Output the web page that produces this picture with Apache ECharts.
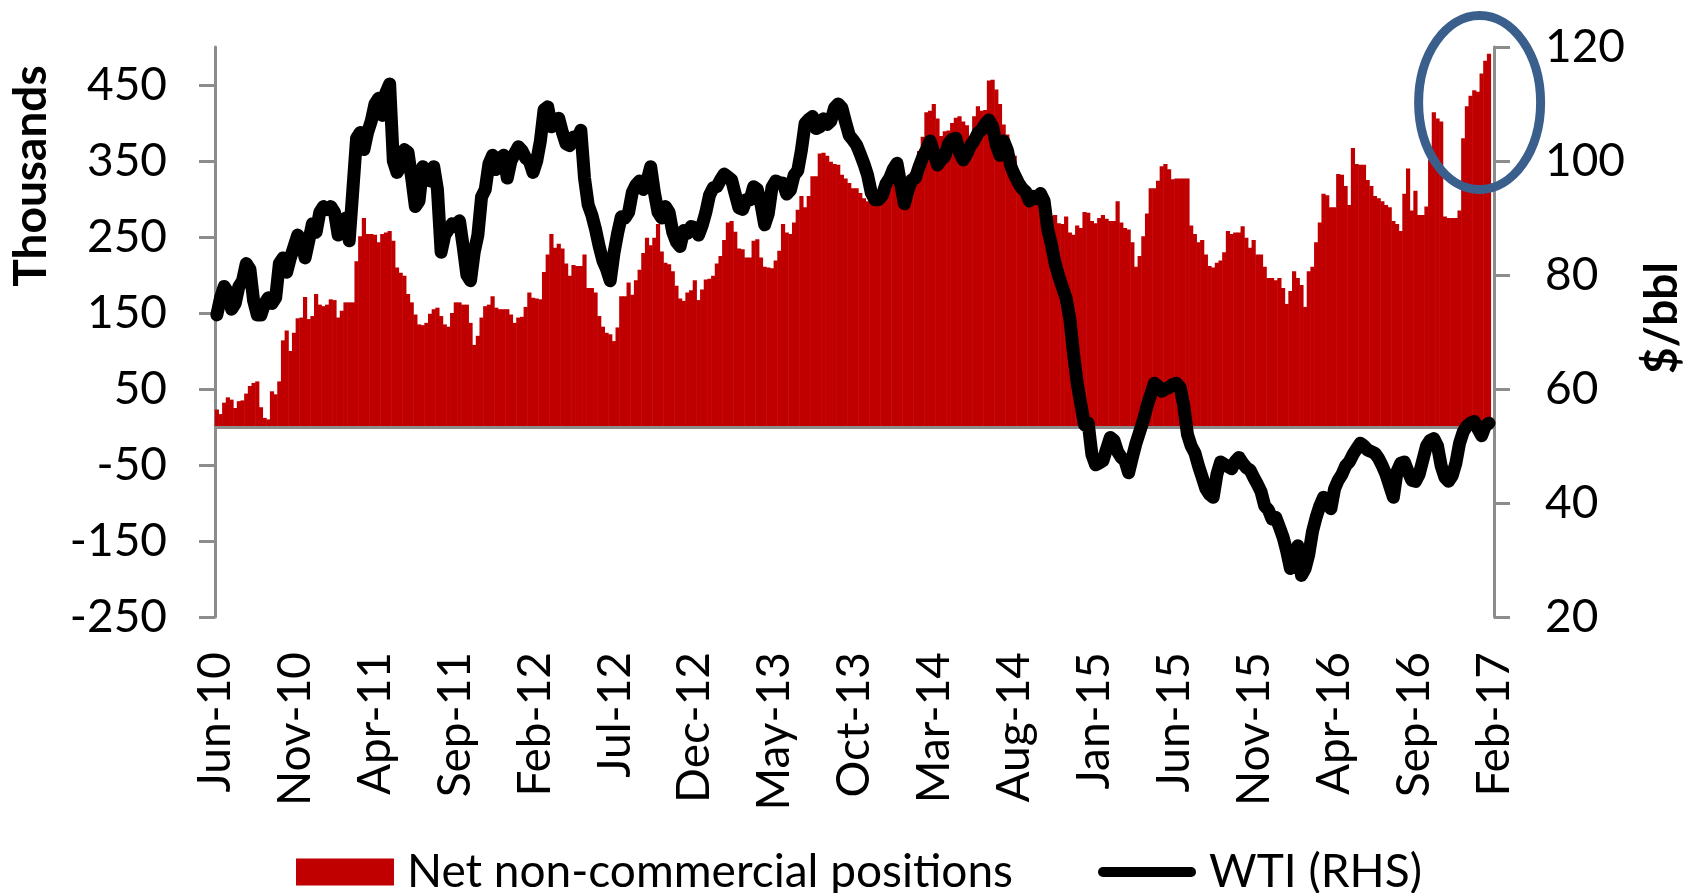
<!DOCTYPE html>
<html>
<head>
<meta charset="utf-8">
<title>Net non-commercial positions vs WTI</title>
<script src="https://cdn.jsdelivr.net/npm/echarts@6/dist/echarts.min.js"></script>
<style>
  html, body { margin: 0; padding: 0; background: #fff; }
  #container { width: 1692px; height: 893px; }
</style>
</head>
<body>
<div id="container"></div>
<script>
// weekly readings, first week = early Jun 2010, last week = Feb 2017
var xTickLabels = ['Jun-10', 'Nov-10', 'Apr-11', 'Sep-11', 'Feb-12', 'Jul-12', 'Dec-12', 'May-13', 'Oct-13',
  'Mar-14', 'Aug-14', 'Jan-15', 'Jun-15', 'Nov-15', 'Apr-16', 'Sep-16', 'Feb-17'];
var leftTicks = [-250, -150, -50, 50, 150, 250, 350, 450];

// net non-commercial positions, thousands of contracts
var netPositions = [
  23, 17, 32, 39, 36, 25, 34, 35, 44, 54,
  58, 60, 26, 12, 10, 47, 43, 60, 114, 127,
  100, 124, 143, 144, 171, 142, 146, 175, 161, 159,
  161, 168, 167, 144, 153, 164, 164, 164, 218, 251,
  275, 254, 254, 253, 243, 254, 256, 258, 245, 210,
  203, 199, 175, 164, 148, 135, 134, 137, 149, 155,
  157, 146, 135, 132, 150, 164, 164, 161, 161, 137,
  108, 120, 144, 159, 161, 172, 157, 155, 155, 155,
  148, 137, 144, 145, 158, 177, 170, 169, 168, 204,
  227, 254, 236, 241, 235, 215, 199, 213, 212, 212,
  227, 183, 183, 177, 146, 132, 124, 122, 113, 131,
  172, 172, 190, 174, 193, 207, 229, 249, 239, 249,
  267, 231, 216, 214, 205, 186, 169, 166, 177, 180,
  193, 167, 181, 194, 195, 199, 215, 225, 246,
  269, 271, 257, 235, 234, 223, 223, 245, 247, 223,
  211, 210, 209, 219, 232, 267, 256, 254, 269, 286,
  304, 289, 304, 330, 330, 360, 361, 357, 349, 346,
  345, 332, 327, 321, 314, 314, 308, 301, 297, 296,
  292, 291, 301, 323, 318, 335, 327, 330, 297, 308,
  335, 341, 363, 382, 414, 416, 425, 406, 383, 389,
  390, 400, 407, 409, 402, 397, 383, 409, 422, 416,
  417, 456, 457, 444, 425, 398, 385, 363, 357, 332,
  321, 314, 308, 304, 300, 302, 296, 293, 278, 279,
  268, 267, 277, 256, 253, 265, 262, 283, 282, 271,
  268, 275, 279, 274, 271, 271, 297, 269, 262, 260,
  243, 211, 225, 251, 281, 314, 314, 324, 343, 346,
  339, 326, 327, 327, 327, 327, 265, 254, 243, 246,
  227, 212, 210, 216, 219, 230, 258, 254, 256, 256,
  264, 249, 236, 246, 227, 227, 211, 196, 196, 193,
  196, 183, 162, 179, 205, 196, 187, 158, 205, 211,
  243, 269, 307, 305, 289, 289, 333, 332, 317, 292,
  367, 346, 345, 345, 325, 317, 304, 301, 297, 292,
  289, 271, 267, 258, 307, 340, 285, 311, 279, 279,
  290, 352, 414, 406, 402, 277, 275, 275, 275, 285,
  380, 422, 436, 443, 441, 465, 482, 491
];

// WTI, $/bbl
var wtiPrice = [
  73, 76, 78, 77, 74, 75, 78, 79, 82, 81,
  75.5, 73, 73, 75, 76, 75, 76, 82, 83, 80.5,
  83, 85, 87, 86, 83, 86, 89, 87.5, 91, 92,
  91.5, 92, 91, 87, 89, 90, 86, 95, 104, 105,
  102, 105, 107, 110, 111, 108, 112, 113.5, 100, 98,
  99, 102, 101.5, 97, 92, 93, 99, 97, 96.5, 99,
  95, 84, 87, 88, 89, 88.5, 89.5, 85, 80, 79,
  84, 87, 93.7, 95, 99.5, 101, 98.5, 100.5, 101, 97,
  100, 101.3, 102.5, 101.8, 100.5, 100, 98, 100, 103.5, 109,
  109.5, 106, 106.8, 107.5, 105, 103, 102.7, 104.2, 103.7, 105.4,
  97, 92.3, 90.5, 88, 85, 82.5, 81, 79, 83.8, 87.3,
  90.2, 90, 91, 94.5, 95.8, 96.5, 95, 96.5, 99, 94.5,
  91, 90, 92, 91, 87.5, 85.8, 85, 87.8, 87.3, 88.5,
  88.3, 87, 88.7, 91, 94, 95.3, 95.5, 96.7, 97.7,
  97.2, 96.7, 94.2, 91.8, 91.5, 93.2, 93.2, 95.5, 95, 92.4,
  88.8, 90.8, 95.4, 96.5, 96.2, 96.1, 94.2, 94.9, 97.5, 98.3,
  101.9, 106.6, 107.3, 107.8, 105.7, 106, 107.4, 106.4, 107, 109.3,
  110, 109.3, 106.8, 104.5, 103.7, 102.8, 101.2, 99.5, 97.5, 94.4,
  93.2, 93.2, 94, 96, 97, 98.6, 99.6, 96, 92.5, 94.9,
  96.7, 97, 99, 100.7, 102, 103.5, 101.5, 99.3, 100.2, 100.8,
  103, 103.8, 104, 101.5, 100.2, 101.3, 102.7, 103.6, 104.9, 105.5,
  106.5, 107.2, 106, 102.8, 101, 103.5, 101.9, 99, 97.5, 96.2,
  95.2, 94.6, 93, 93.8, 93.4, 94.3, 93, 88, 85.3, 82,
  79.8, 77.8, 75.9, 72.3, 66.2, 61, 57.3, 53.7, 54,
  48.5, 46.7, 47, 47.4, 49.5, 51.5, 51, 49, 48, 47.4,
  45.3, 48, 50.5, 52.5, 54.5, 57, 59, 61, 60.5, 59.6,
  60, 60.3, 60.8, 61, 60.3, 57, 52, 50, 48.8, 46.5,
  44.5, 42.5, 41.5, 41, 45, 47.2, 46.8, 46.4, 46, 47.3,
  48, 47, 46.2, 45.8, 44.5, 43.3, 42, 39.5, 38.8, 37.2,
  37.5, 35.8, 34, 31.5, 28.5, 30, 32.5, 27.3, 28.5, 31,
  35, 37.5, 39.5, 41, 40, 39, 42.5, 44, 45, 46.5,
  47.2, 48.5, 49.5, 50.5, 50, 49.3, 49, 48.7, 47.8, 46.5,
  45, 43, 41, 45.5, 47, 47.2, 45.5, 44, 43.8, 45,
  47.5, 50, 51, 51.3, 50, 46.5, 44.5, 43.8, 44.8, 47,
  50.5, 52.5, 53.5, 54, 54.3, 53, 51.8, 53.5, 54
];

var weekStep = 12 / 52.18; // x axis is in months from Jun-10

function toPoints(values) {
  var pts = [];
  for (var i = 0; i < values.length; i++) {
    pts.push([(i + 0.5) * weekStep, values[i]]);
  }
  return pts;
}

var font = 'Lato, "Liberation Sans", sans-serif';
var fontSize = 46;
var axisGray = '#8c8c8c';

var myChart = echarts.init(document.getElementById('container'));

var option = {
  animation: false,
  textStyle: { fontFamily: font },
  grid: { left: 215, right: 198, top: 47, bottom: 276, containLabel: false },
  legend: {
    left: 291,
    top: 844,
    itemWidth: 98,
    itemHeight: 27,
    itemGap: 85,
    textStyle: { fontSize: fontSize, color: '#000', fontFamily: font, padding: [0, 0, 0, 8] },
    data: [
      { name: 'Net non-commercial positions', icon: 'rect' },
      { name: 'WTI (RHS)', icon: 'path://M5,0 L95,0 A5,5 0 0 1 95,10 L5,10 A5,5 0 0 1 5,0 Z' }
    ]
  },
  xAxis: {
    type: 'value',
    min: 0,
    max: 80,
    interval: 5,
    axisLine: { show: false, onZero: false },
    axisTick: { show: false },
    splitLine: { show: false },
    axisLabel: {
      rotate: 90,
      margin: 35,
      fontSize: fontSize,
      color: '#000',
      fontFamily: font,
      showMinLabel: true,
      showMaxLabel: true,
      formatter: function (v) {
        return xTickLabels[Math.round(v / 5)] || '';
      }
    }
  },
  yAxis: [
    {
      type: 'value',
      min: -250,
      max: 500,
      position: 'left',
      axisLine: { show: true, lineStyle: { color: axisGray, width: 3 } },
      axisTick: { show: true, length: 16, lineStyle: { color: axisGray, width: 3 }, customValues: leftTicks },
      axisLabel: { margin: 48, fontSize: fontSize, color: '#000', fontFamily: font, customValues: leftTicks },
      splitLine: { show: false }
    },
    {
      type: 'value',
      min: 20,
      max: 120,
      interval: 20,
      position: 'right',
      axisLine: { show: true, lineStyle: { color: axisGray, width: 3 } },
      axisTick: { show: true, length: 16, lineStyle: { color: axisGray, width: 3 } },
      axisLabel: { margin: 51, fontSize: fontSize, color: '#000', fontFamily: font },
      splitLine: { show: false }
    }
  ],
  series: [
    {
      name: 'Net non-commercial positions',
      type: 'bar',
      data: toPoints(netPositions),
      barWidth: 4.2,
      itemStyle: { color: '#C00000' },
      markLine: {
        silent: true,
        symbol: ['none', 'none'],
        label: { show: false },
        lineStyle: { color: axisGray, width: 3, type: 'solid' },
        data: [{ yAxis: 0 }]
      }
    },
    {
      name: 'WTI (RHS)',
      type: 'line',
      yAxisIndex: 1,
      data: toPoints(wtiPrice),
      symbol: 'none',
      showSymbol: false,
      z: 5,
      lineStyle: { color: '#000', width: 13, cap: 'round', join: 'round' },
      itemStyle: { color: '#000' }
    }
  ]
};

myChart.setOption(option);

// annotation ellipse around the latest positions, plus rotated axis titles
var c = myChart.convertToPixel({ xAxisIndex: 0, yAxisIndex: 0 }, [79.1, 427]);
myChart.setOption({
  graphic: [
    {
      type: 'text',
      x: 31, y: 176,
      rotation: Math.PI / 2,
      style: { text: 'Thousands', fontSize: fontSize, fontWeight: 'bold', fontFamily: font, fill: '#000',
        textAlign: 'center', textVerticalAlign: 'middle' }
    },
    {
      type: 'text',
      x: 1662, y: 318,
      rotation: Math.PI / 2,
      style: { text: '$/bbl', fontSize: fontSize, fontWeight: 'bold', fontFamily: font, fill: '#000',
        textAlign: 'center', textVerticalAlign: 'middle' }
    },
    {
      type: 'ellipse',
      z: 100,
      shape: { cx: c[0], cy: c[1], rx: 61, ry: 87 },
      style: { fill: 'none', stroke: '#3A5F8C', lineWidth: 9 }
    }
  ]
});
</script>
</body>
</html>
